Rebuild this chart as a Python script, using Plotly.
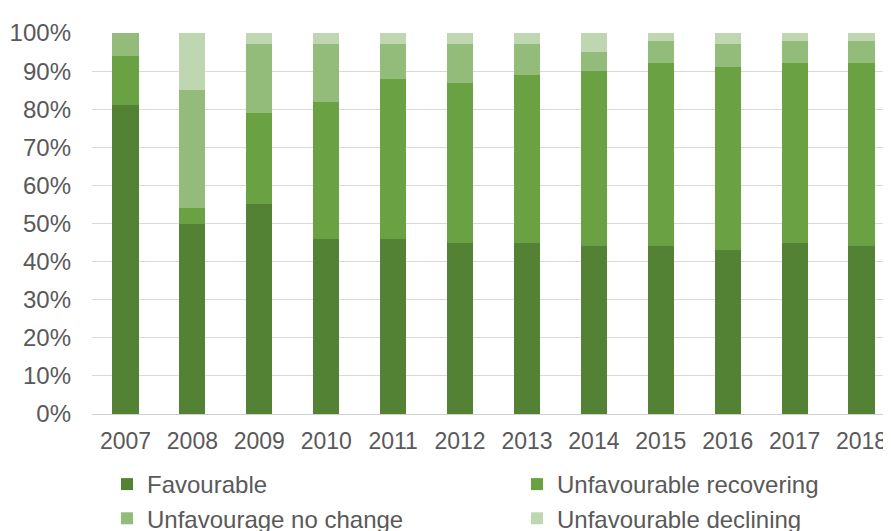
import plotly.graph_objects as go

years = ["2007", "2008", "2009", "2010", "2011", "2012", "2013", "2014", "2015", "2016", "2017", "2018"]
favourable = [81, 50, 55, 46, 46, 45, 45, 44, 44, 43, 45, 44]
unfav_recovering = [13, 4, 24, 36, 42, 42, 44, 46, 48, 48, 47, 48]
unfav_no_change = [6, 31, 18, 15, 9, 10, 8, 5, 6, 6, 6, 6]
unfav_declining = [0, 15, 3, 3, 3, 3, 3, 5, 2, 3, 2, 2]

series_names = ["Favourable", "Unfavourable recovering", "Unfavourage no change", "Unfavourable declining"]
series_values = [favourable, unfav_recovering, unfav_no_change, unfav_declining]
colors = ["#548235", "#6AA142", "#93BB7A", "#BFD7B0"]
legend_ids = ["legend", "legend2", "legend", "legend2"]

fig = go.Figure()
for i, (name, vals, col, lg) in enumerate(zip(series_names, series_values, colors, legend_ids)):
    fig.add_trace(go.Bar(x=years, y=vals, name=name, legend=lg, legendgroup=f"g{i}",
                         marker=dict(color=col, line=dict(width=0))))

font_family = "Liberation Sans, Arial, sans-serif"
FS = 24
W, H = 891, 531
legend_common = dict(
    orientation="v",
    xref="container", yref="container",
    xanchor="left", yanchor="top",
    font=dict(size=FS, color="#595959"),
    traceorder="normal",
    tracegroupgap=2,
    bgcolor="rgba(0,0,0,0)",
)
fig.update_layout(
    barmode="stack",
    bargap=0.61,
    width=W,
    height=H,
    margin=dict(l=84, r=4, t=25, b=125, autoexpand=False),
    paper_bgcolor="white",
    plot_bgcolor="white",
    font=dict(family=font_family, size=FS, color="#595959"),
    showlegend=True,
    legend=dict(x=99 / W, y=1 - 454 / H, **legend_common),
    legend2=dict(x=509 / W, y=1 - 454 / H, **legend_common),
)
fig.update_xaxes(
    showgrid=False,
    showline=True, linecolor="#D0D0D0", linewidth=1,
    ticks="", ticklabelstandoff=6,
    tickfont=dict(size=23, color="#595959"),
)
fig.update_yaxes(
    range=[0, 100], dtick=10, ticksuffix="%",
    showgrid=True, gridcolor="#D9D9D9", gridwidth=1,
    zeroline=False, showline=False,
    ticks="", ticklabelstandoff=20,
    tickfont=dict(size=FS, color="#595959"),
)

fig.write_html("out.html")
